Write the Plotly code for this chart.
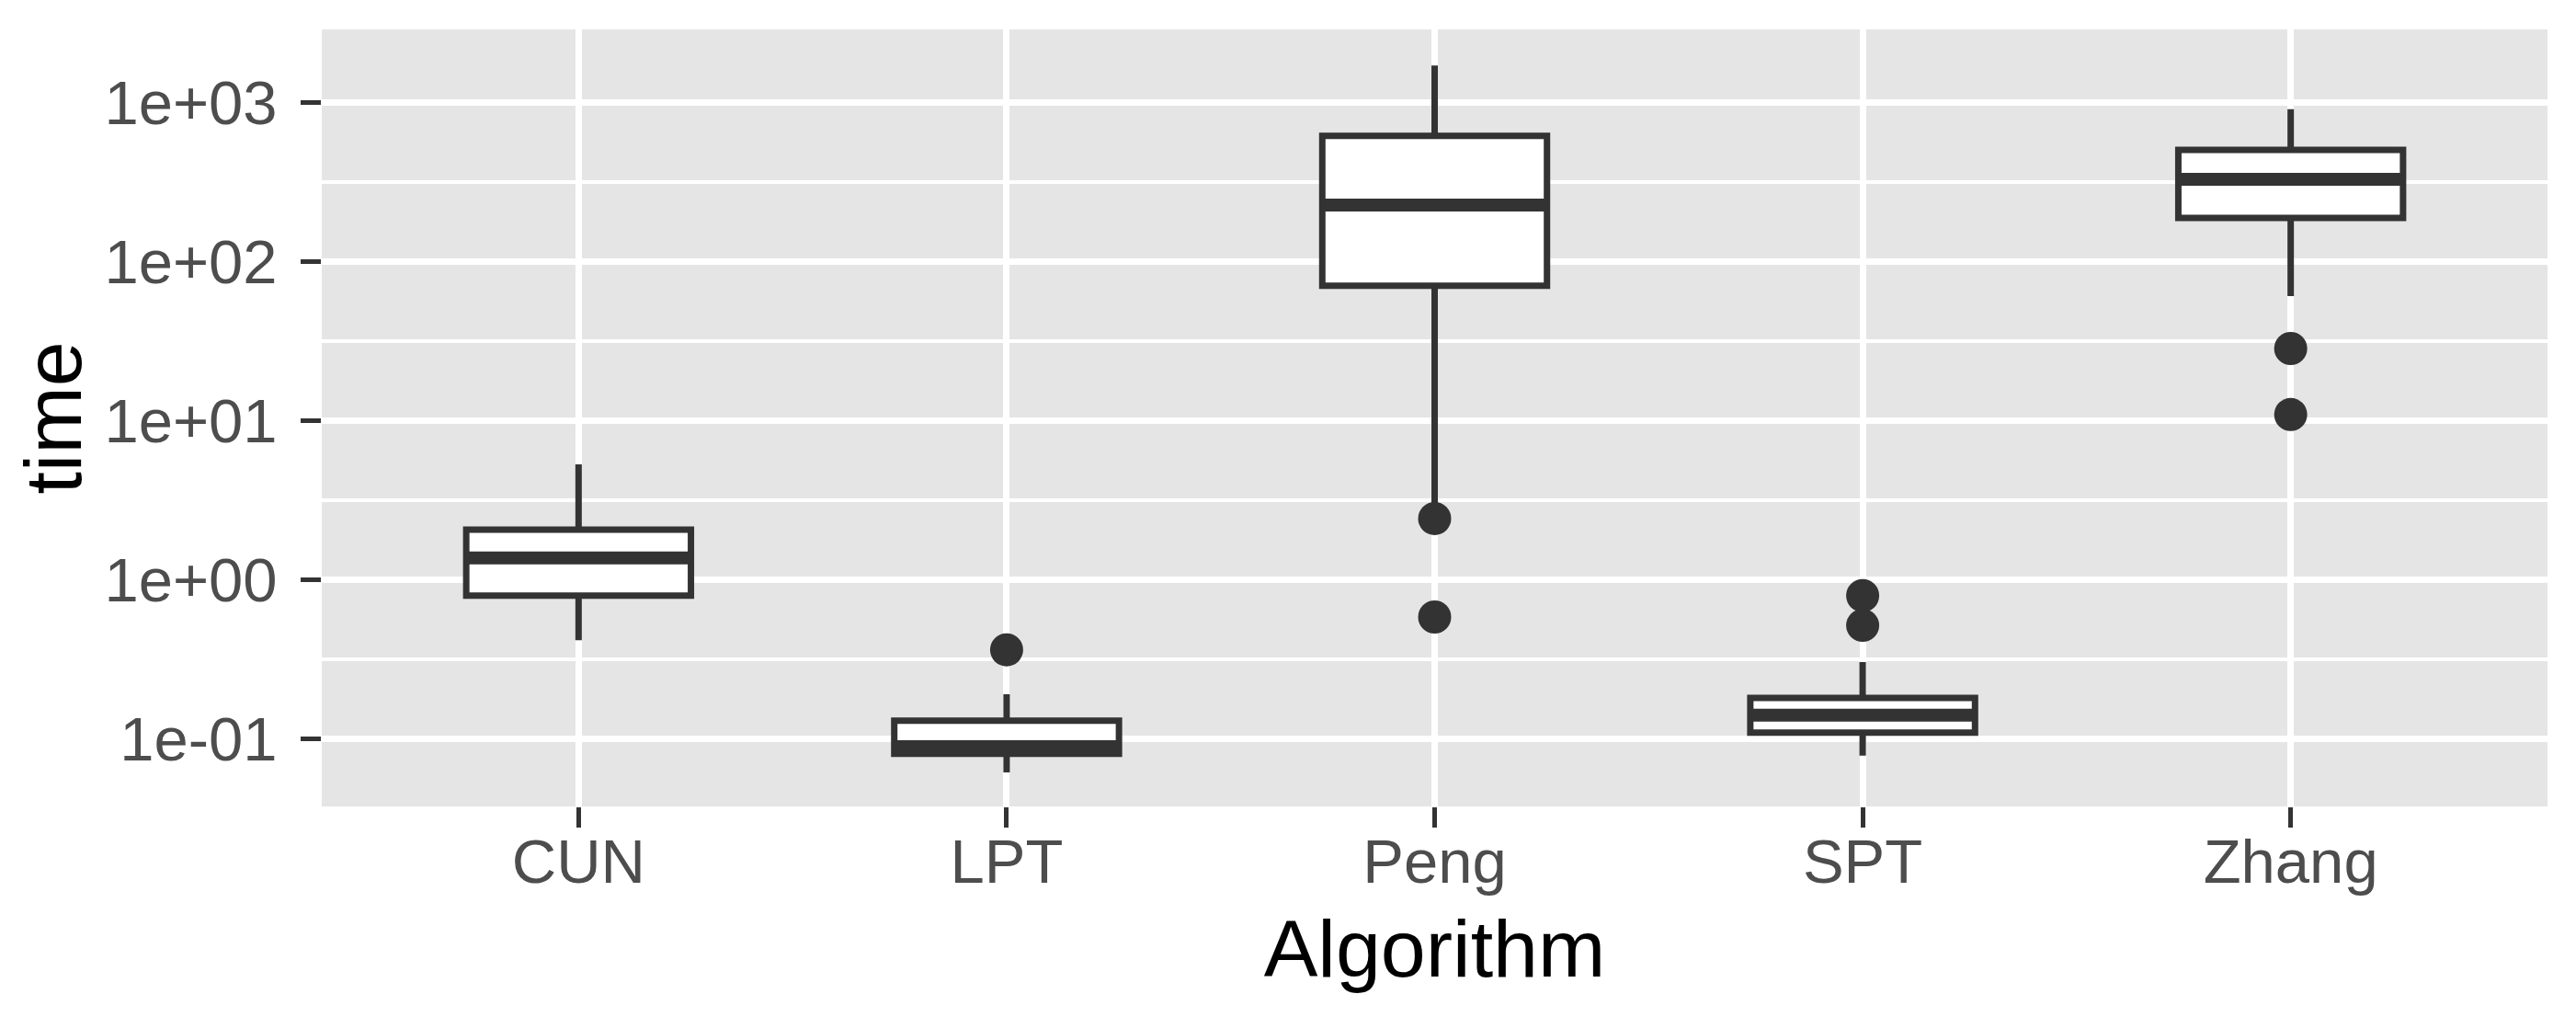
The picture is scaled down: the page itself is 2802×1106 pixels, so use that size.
import numpy as np
import plotly.graph_objects as go

# box statistics (seconds, log scale)
algorithms = ["CUN", "LPT", "Peng", "SPT", "Zhang"]
lower_whisker = [0.42, 0.062, 3.0, 0.079, 61]
q1 = [0.80, 0.081, 71, 0.110, 189]
median = [1.38, 0.090, 228, 0.142, 331]
q3 = [2.08, 0.131, 620, 0.182, 507]
upper_whisker = [5.35, 0.192, 1720, 0.306, 912]

outlier_alg = ["LPT", "Peng", "Peng", "SPT", "SPT", "Zhang", "Zhang"]
outlier_time = [0.365, 2.44, 0.587, 0.80, 0.52, 28.6, 11.0]

tick_vals = [0.1, 1, 10, 100, 1000]
tick_text = ["1e-01", "1e+00", "1e+01", "1e+02", "1e+03"]
minor_vals = list(10 ** (np.log10(tick_vals) + 0.5))

INK = "#333333"
FONT = "Liberation Sans, Arial, sans-serif"

fig = go.Figure()

fig.add_trace(go.Box(
    x=algorithms,
    q1=q1, median=median, q3=q3,
    lowerfence=lower_whisker, upperfence=upper_whisker,
    fillcolor="white",
    line=dict(color=INK, width=7),
    whiskerwidth=0,
    boxpoints=False,
    showlegend=False,
))

# thicker median bar like ggplot's fatten=2
fig.add_trace(go.Box(
    x=algorithms,
    q1=median, median=median, q3=median,
    lowerfence=median, upperfence=median,
    fillcolor="rgba(0,0,0,0)",
    line=dict(color=INK, width=14),
    whiskerwidth=0,
    boxpoints=False,
    showlegend=False,
    hoverinfo="skip",
))

fig.add_trace(go.Scatter(
    x=outlier_alg,
    y=outlier_time,
    mode="markers",
    marker=dict(color=INK, size=36),
    showlegend=False,
))

# page body has an 8px margin, so the figure is 8px smaller and shifted
fig.update_layout(
    width=2794, height=1098,
    margin=dict(l=342, r=31, t=24, b=229),
    paper_bgcolor="white",
    plot_bgcolor="#E5E5E5",
    boxgap=0.25,
    boxmode="overlay",
    font=dict(family=FONT),
)

fig.update_xaxes(
    type="category",
    categoryorder="array", categoryarray=algorithms,
    range=[-0.6, 4.6],
    automargin=False,
    showgrid=True, gridcolor="white", gridwidth=7,
    zeroline=False, showline=False,
    ticks="outside", ticklen=22, tickwidth=5, tickcolor=INK,
    tickfont=dict(size=67, color="#4D4D4D", family=FONT),
    ticklabelstandoff=-20,
    title=dict(text="Algorithm", font=dict(size=88, color="black", family=FONT), standoff=26),
)

fig.update_yaxes(
    type="log",
    range=[-1.422, 3.462],
    automargin=False,
    tickmode="array", tickvals=tick_vals, ticktext=tick_text,
    showgrid=True, gridcolor="white", gridwidth=7,
    minor=dict(tickmode="array", tickvals=minor_vals, showgrid=True,
               gridcolor="white", gridwidth=4, ticks=""),
    zeroline=False, showline=False,
    ticks="outside", ticklen=22, tickwidth=5, tickcolor=INK,
    tickfont=dict(size=67, color="#4D4D4D", family=FONT),
    ticklabelstandoff=12,
    title=dict(text="time", font=dict(size=88, color="black", family=FONT), standoff=40),
)

fig.write_html("out.html")
